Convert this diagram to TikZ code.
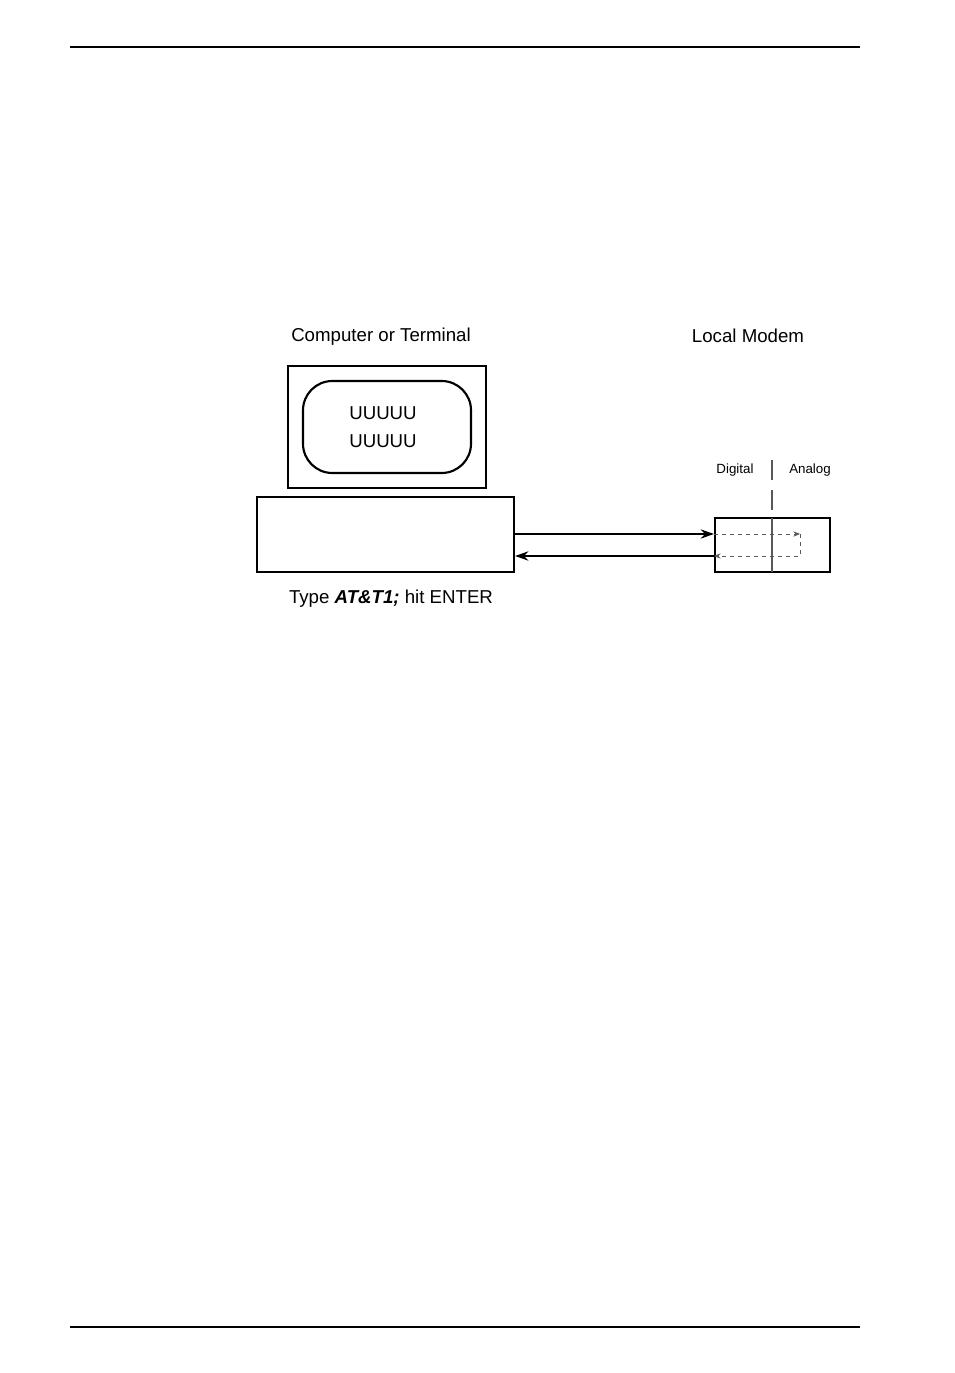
\documentclass[tikz,border=0pt]{standalone}
\usepackage{fontspec}
\setmainfont{Liberation Sans}
\usetikzlibrary{arrows.meta}

\begin{document}
\begin{tikzpicture}[x=0.75pt,y=-0.75pt]
    \tikzstyle{box}=[draw,line width=1.6pt]
    \tikzstyle{label}=[font=\fontsize{14}{16}\selectfont]
    \tikzstyle{small}=[font=\fontsize{10}{12}\selectfont]
    \tikzstyle{link}=[line width=1pt,-{Stealth[length=10pt,width=7pt]}]
    \tikzstyle{loop}=[gray!70!black,dashed,line width=0.6pt]
    \useasboundingbox (0,0) rectangle (954,1373);
    \draw[line width=1.8pt] (70,47) -- (860,47);
    \draw[line width=1.8pt] (70,1327) -- (860,1327);

    \node at (381,337) (comp) [label] {Computer or Terminal};
    \node at (748,336) (lmodem) [label] {Local Modem};

    \draw[box] (288,366) rectangle (486,488);
    \draw[box,rounded corners=22pt] (303,381) rectangle (471,473);
    \node at (383,413) (line1) [label] {UUUUU};
    \node at (383,441) (line2) [label] {UUUUU};

    \node[box,minimum width=192.75pt,minimum height=56.25pt] at (385.5,534.5) (pc) {};
    \node[box,minimum width=86.25pt,minimum height=40.5pt,inner sep=0pt] at (772.5,545) (modem) {};
    \node at (599,599) (cmd) [label] {};
    \node at (391,599) (type) [label] {Type \textbf{\textit{AT\&T1;}} hit ENTER};

    \node at (735,470) (dig) [small] {Digital};
    \node at (810,470) (ana) [small] {Analog};
    \draw[gray!70!black,line width=1pt] (772,460) -- (772,480);
    \draw[gray!70!black,line width=1pt] (772,490) -- (772,510);
    \draw[gray!70!black,line width=1pt] (772,518) -- (772,572);

    \coordinate (t1) at (pc.east |- 0,534);
    \coordinate (t2) at (modem.west |- 0,534);
    \coordinate (b1) at (modem.west |- 0,556);
    \coordinate (b2) at (pc.east |- 0,556);
    \draw[link] (t1) -- (t2);
    \draw[link] (b1) -- (b2);

    \draw[loop,-{Stealth[length=5pt,width=4pt]}] (t2) -- (800,534);
    \draw[loop,-{Stealth[length=5pt,width=4pt]}] (800,534) -- (800,556) -- (b1);
\end{tikzpicture}
\end{document}
